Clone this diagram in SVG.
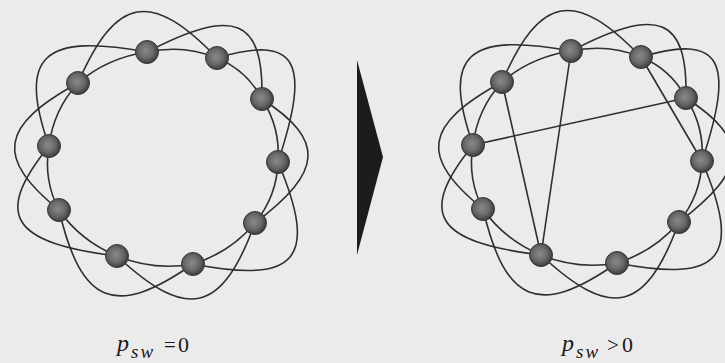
<svg xmlns="http://www.w3.org/2000/svg" width="725" height="363" viewBox="0 0 725 363">
<style>
.e{fill:none;stroke:#2f2f2f;stroke-width:1.6}
.n{fill:url(#ball);stroke:#3a3a3a;stroke-width:1}
.t{font-family:"Liberation Serif","Times New Roman",serif;fill:#1a1a1a}
.i{font-style:italic}
</style>
<defs>
<radialGradient id="ball" cx="45%" cy="45%" r="55%">
<stop offset="0" stop-color="#8a8a8a"/>
<stop offset="0.6" stop-color="#686868"/>
<stop offset="1" stop-color="#3c3c3c"/>
</radialGradient>
<g id="base">
<path class="e" d="M147,52 Q183.9,44.2 217,58"/>
<path class="e" d="M217,58 Q247.1,70.5 262,99"/>
<path class="e" d="M262,99 Q280.6,127.7 278,162"/>
<path class="e" d="M278,162 Q276.9,196 255,223"/>
<path class="e" d="M255,223 Q230.3,252.5 193,264"/>
<path class="e" d="M193,264 Q154,271 117,256"/>
<path class="e" d="M117,256 Q80.2,240.7 59,210"/>
<path class="e" d="M59,210 Q43.2,180 49,146"/>
<path class="e" d="M49,146 Q53.4,110.1 78,83"/>
<path class="e" d="M78,83 Q107.1,57.9 147,52"/>
<path class="e" d="M78,83 C116.1,-4.4 150.9,-10.6 217,58"/>
<path class="e" d="M147,52 C234.8,6.3 263.6,18.1 262,99"/>
<path class="e" d="M217,58 C296.6,34.3 311.8,60.3 278,162"/>
<path class="e" d="M262,99 C325.4,140.2 323.6,171.2 255,223"/>
<path class="e" d="M278,162 C318.8,258.9 297.6,284.4 193,264"/>
<path class="e" d="M255,223 C221.9,313.4 187.4,321.6 117,256"/>
<path class="e" d="M193,264 C114.8,318.5 81.3,304.9 59,210"/>
<path class="e" d="M117,256 C10.2,242.7 -6.8,215.2 49,146"/>
<path class="e" d="M59,210 C-5.2,157.7 -0.5,126 78,83"/>
<path class="e" d="M49,146 C17.7,56.1 42.2,32.6 147,52"/>
</g>
</defs>
<rect width="725" height="363" fill="#ebebeb"/>

<g id="connectors">
<use href="#base"/>
<g transform="translate(424,-1)">
<use href="#base"/>
<path class="e" d="M147,52 L117,256"/>
<path class="e" d="M78,83 L117,256"/>
<path class="e" d="M49,146 L262,99"/>
<path class="e" d="M217,58 L278,162"/>
</g>
</g>

<g id="left-nodes">
<g id="a1"><circle class="n" cx="147" cy="52" r="11.5"/></g>
<g id="a2"><circle class="n" cx="217" cy="58" r="11.5"/></g>
<g id="a3"><circle class="n" cx="262" cy="99" r="11.5"/></g>
<g id="a4"><circle class="n" cx="278" cy="162" r="11.5"/></g>
<g id="a5"><circle class="n" cx="255" cy="223" r="11.5"/></g>
<g id="a6"><circle class="n" cx="193" cy="264" r="11.5"/></g>
<g id="a7"><circle class="n" cx="117" cy="256" r="11.5"/></g>
<g id="a8"><circle class="n" cx="59" cy="210" r="11.5"/></g>
<g id="a9"><circle class="n" cx="49" cy="146" r="11.5"/></g>
<g id="a10"><circle class="n" cx="78" cy="83" r="11.5"/></g>
</g>

<g id="right-nodes" transform="translate(424,-1)">
<g id="b1"><circle class="n" cx="147" cy="52" r="11.5"/></g>
<g id="b2"><circle class="n" cx="217" cy="58" r="11.5"/></g>
<g id="b3"><circle class="n" cx="262" cy="99" r="11.5"/></g>
<g id="b4"><circle class="n" cx="278" cy="162" r="11.5"/></g>
<g id="b5"><circle class="n" cx="255" cy="223" r="11.5"/></g>
<g id="b6"><circle class="n" cx="193" cy="264" r="11.5"/></g>
<g id="b7"><circle class="n" cx="117" cy="256" r="11.5"/></g>
<g id="b8"><circle class="n" cx="59" cy="210" r="11.5"/></g>
<g id="b9"><circle class="n" cx="49" cy="146" r="11.5"/></g>
<g id="b10"><circle class="n" cx="78" cy="83" r="11.5"/></g>
</g>

<g id="arrow"><polygon points="357,60 383,157 357,255" fill="#1c1c1c"/></g>

<g id="label-left" class="t">
<text x="117" y="351" class="i" font-size="24">p</text>
<text x="131" y="358" class="i" font-size="19" letter-spacing="2">sw</text>
<text x="164" y="352" font-size="21">=</text>
<text x="178" y="352" font-size="22">0</text>
</g>
<g id="label-right" class="t">
<text x="562" y="351" class="i" font-size="24">p</text>
<text x="576" y="358" class="i" font-size="19" letter-spacing="2">sw</text>
<text x="607" y="352" font-size="21">&gt;</text>
<text x="622" y="352" font-size="22">0</text>
</g>
</svg>
